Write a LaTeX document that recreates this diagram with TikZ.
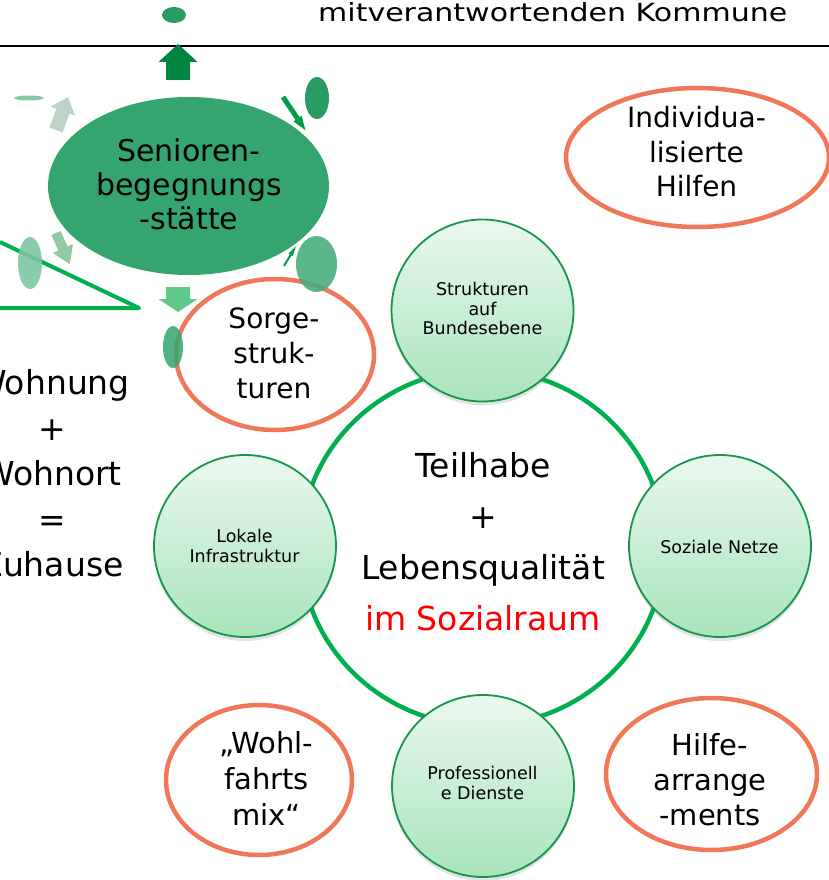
\documentclass[tikz,border=0pt]{standalone}
\usepackage{fontspec}
\setmainfont{DejaVu Sans}
\newfontfamily\headfont[FakeStretch=1.2]{DejaVu Sans}
\usetikzlibrary{shapes.geometric,shadows}

\definecolor{ringgreen}{RGB}{0,176,80}
\definecolor{hubgreen}{RGB}{52,165,110}
\definecolor{dotgreen}{RGB}{40,156,98}
\definecolor{uparrow}{RGB}{0,132,63}
\definecolor{downarrow}{RGB}{94,201,138}
\definecolor{ulfill}{RGB}{188,211,197}
\definecolor{llfill}{RGB}{143,202,162}
\definecolor{orangering}{RGB}{240,120,88}
\definecolor{circline}{RGB}{22,150,76}
\definecolor{circtop}{RGB}{234,248,238}
\definecolor{circbot}{RGB}{168,228,186}
\definecolor{accentred}{RGB}{255,0,0}

% block arrow: start point, angle, length, half shaft, half head, head length, colour
\newcommand\blockarrow[7]{%
  \fill[#7, shift={#1}, rotate=#2]
    (0,-#4) -- ({#3-#6},-#4) -- ({#3-#6},-#5) -- (#3,0)
    -- ({#3-#6},#5) -- ({#3-#6},#4) -- (0,#4) -- cycle;}

\begin{document}
\begin{tikzpicture}[x=1pt,y=-1pt,
  lbl/.style={inner sep=0pt, align=center,
    execute at begin node=\strut, execute at end node=\strut},
  blob/.style={ellipse, inner sep=0pt, draw=none},
  orangebox/.style={ellipse, inner sep=0pt, draw=orangering, line width=4.5pt, fill=white},
  topic/.style={circle, inner sep=0pt, minimum size=182pt, draw=circline, line width=1.8pt,
    top color=circtop, bottom color=circbot,
    drop shadow={opacity=0.22, shadow xshift=0pt, shadow yshift=-4pt}},
  small/.style={lbl, font=\fontsize{17.5}{19.5}\selectfont},
  big/.style={lbl, font=\fontsize{33}{51}\selectfont}]

\useasboundingbox (0,0) rectangle (829,880);

% header line and caption
\coordinate (ruleL) at (0,46);
\coordinate (ruleR) at (829,46);
\draw[line width=2.5pt] (ruleL) -- (ruleR);
\node[anchor=base west, inner sep=0pt, font=\headfont\fontsize{25}{30}\selectfont]
  (kommune) at (318,22) {mitverantwortenden Kommune};

% open triangle on the left
\coordinate (triA) at (0,242);
\coordinate (triB) at (139,308);
\coordinate (triC) at (0,308);
\draw[ringgreen, line width=4pt, line join=round] (triA) -- (triB) -- (triC);

% hub with its arrows
\node[blob, fill=hubgreen, minimum width=281pt, minimum height=178pt] (hub) at (188.5,186) {};
\node[lbl, font=\fontsize{30}{34}\selectfont] (hubtext) at (189,189) {Senioren-\\begegnungs\\-stätte};

\blockarrow{(178,80)}{90}{36}{12}{19.5}{18}{uparrow}
\blockarrow{(178,287)}{-90}{25}{12}{19.5}{13}{downarrow}
\blockarrow{(283,97)}{-56}{40}{2.5}{5}{14}{ringgreen!90!black}
\blockarrow{(284,266)}{59}{23}{1}{2.5}{10}{ringgreen!90!black}
\blockarrow{(56,130)}{70}{35}{7}{13}{15}{ulfill}
\blockarrow{(56,233)}{-66}{34}{5}{11}{17}{llfill}

% care structures ellipse
\node[orangebox, minimum width=198pt, minimum height=151pt] (sorge) at (275,354.5) {};
\node[lbl, font=\fontsize{28}{35}\selectfont] (sorgetext) at (274,358) {Sorge-\\struk-\\turen};

% satellite dots around the hub
\node[blob, fill=dotgreen, minimum width=24pt, minimum height=16pt] (dottop) at (174,15) {};
\node[blob, fill=dotgreen, minimum width=24pt, minimum height=42pt] (dotur) at (317,98) {};
\node[blob, fill=hubgreen!92!white, fill opacity=0.88, minimum width=41pt, minimum height=56pt] (dotlr) at (316.5,264) {};
\node[blob, fill=hubgreen, fill opacity=0.85, minimum width=20pt, minimum height=42pt] (dotsorge) at (173,347) {};
\node[blob, fill=hubgreen!65!white, fill opacity=0.88, minimum width=24pt, minimum height=52pt] (dotleft) at (30,263) {};
\node[blob, fill=hubgreen!60!white, minimum width=30pt, minimum height=5pt] (dotthin) at (29,98) {};

% home equation
\node[lbl, font=\fontsize{33}{45.5}\selectfont] (zuhause) at (52,480) {Wohnung\\+\\Wohnort\\=\\Zuhause};

% central ring
\node[ellipse, inner sep=0pt, draw=ringgreen, line width=4.5pt,
  minimum width=364pt, minimum height=356pt] (ring) at (482.5,547.5) {};
\node[big] (core) at (483,548.8) {Teilhabe\\+\\Lebensqualität\\\textcolor{accentred}{im Sozialraum}};

% topic circles on the ring
\node[topic] (bund) at (482.5,310.5) {};
\node[small] (bundtext) at (482.5,311.6) {Strukturen\\auf\\Bundesebene};
\node[topic] (netze) at (720,546) {};
\node[small] (netzetext) at (719.5,549.1) {Soziale Netze};
\node[topic] (lokal) at (245,546) {};
\node[small] (lokaltext) at (244.5,548.6) {Lokale\\Infrastruktur};
\node[topic] (dienste) at (483,786) {};
\node[small] (dienstetext) at (482.5,786) {Professionell\\e Dienste};

% further orange ellipses
\node[orangebox, minimum width=263pt, minimum height=139pt] (indiv) at (697.5,157.5) {};
\node[lbl, font=\fontsize{28}{34.5}\selectfont] (indivtext) at (696.5,156.6) {Individua-\\lisierte\\Hilfen};
\node[orangebox, minimum width=186pt, minimum height=150pt] (mix) at (259,780) {};
\node[lbl, font=\fontsize{29}{36}\selectfont] (mixtext) at (266.5,784.3) {„Wohl-\\fahrts\\mix“};
\node[orangebox, minimum width=211pt, minimum height=152pt] (arr) at (711.5,774) {};
\node[lbl, font=\fontsize{29}{35}\selectfont] (arrtext) at (710,785) {Hilfe-\\arrange\\-ments};

\end{tikzpicture}
\end{document}
